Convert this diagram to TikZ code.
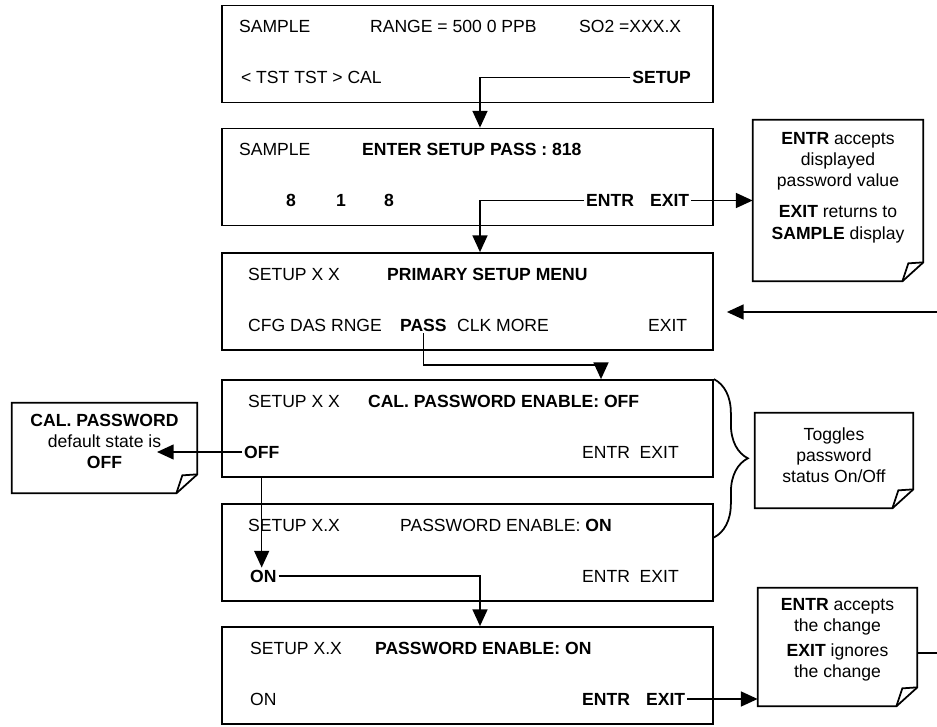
\documentclass[tikz,border=0pt]{standalone}
\usepackage{fontspec}
\setmainfont{Liberation Sans}
\usetikzlibrary{arrows.meta,calc,decorations.pathreplacing}

\tikzset{
  scrn/.style={draw, line width=1pt, minimum width=9.82cm, minimum height=1.94cm},
  key/.style={anchor=west, inner sep=1pt, text height=7.2pt, text depth=0pt},
  keyb/.style={key, font=\fontsize{10}{12}\selectfont\bfseries},
  note/.style={align=center, inner sep=2pt},
  notebd/.style={line width=1pt},
  arr/.style={line width=0.9pt, -{Triangle[width=8.5pt,length=9.5pt]}},
}
\newcommand{\dogear}[1]{%
  \draw[notebd] (#1.north west) -- (#1.north east) -- ([yshift=0.38cm]#1.south east)
    -- ([xshift=-0.42cm]#1.south east) -- (#1.south west) -- cycle;
  \draw[notebd] ([xshift=-0.42cm]#1.south east) -- ([xshift=-0.30cm,yshift=0.36cm]#1.south east)
    -- ([yshift=0.38cm]#1.south east);}

\begin{document}
\begin{tikzpicture}[font=\fontsize{10}{12}\selectfont]
  \useasboundingbox (0,0) rectangle (18.74,14.52);

  %% Display 1 -- sample screen
  \node[scrn] (s1) at (9.35,13.44) {};
  \node[key]  (smp1)  at (4.74,13.99) {SAMPLE};
  \node[key]  (rng)   at (7.36,13.99) {RANGE = 500 0 PPB};
  \node[key]  (so2)   at (11.54,13.99) {SO2 =XXX.X};
  \node[key]  (tst)   at (4.78,12.97) {< TST TST > CAL};
  \node[keyb, anchor=east] (setup) at (13.86,12.97) {SETUP};

  %% Display 2 -- password entry
  \node[scrn] (s2) at (9.35,10.98) {};
  \node[key]  (smp2)  at (4.74,11.53) {SAMPLE};
  \node[keyb] (pwd)   at (7.20,11.53) {ENTER SETUP PASS : 818};
  \node[keyb, anchor=center] (dg1) at (5.82,10.51) {8};
  \node[keyb, anchor=center] (dg2) at (6.82,10.51) {1};
  \node[keyb, anchor=center] (dg3) at (7.78,10.51) {8};
  \node[keyb] (entr2) at (11.68,10.51) {ENTR};
  \node[keyb] (exit2) at (12.96,10.51) {EXIT};

  %% Display 3 -- primary setup menu
  \node[scrn] (s3) at (9.35,8.49) {};
  \node[key]  (set3)  at (4.92,9.04) {SETUP X X};
  \node[keyb] (menu)  at (7.70,9.04) {PRIMARY SETUP MENU};
  \node[key]  (cfg)   at (4.92,8.02) {CFG DAS RNGE};
  \node[keyb] (pass)  at (7.96,8.02) {PASS};
  \node[key]  (clk)   at (9.10,8.02) {CLK MORE};
  \node[key]  (exit3) at (12.92,8.02) {EXIT};

  %% Display 4 -- enable is off
  \node[scrn] (s4) at (9.35,5.95) {};
  \node[key]  (set4)  at (4.92,6.50) {SETUP X X};
  \node[keyb] (cal4)  at (7.32,6.50) {CAL.\ PASSWORD ENABLE: OFF};
  \node[keyb] (off)   at (4.84,5.48) {OFF};
  \node[key]  (ent4)  at (11.60,5.48) {ENTR\ \ EXIT};

  %% Display 5 -- enable is on
  \node[scrn] (s5) at (9.35,3.47) {};
  \node[key]  (set5)  at (4.92,4.02) {SETUP X.X};
  \node[key]  (pe5)   at (7.96,4.02) {PASSWORD ENABLE: \textbf{ON}};
  \node[keyb] (on)    at (4.96,3.00) {ON};
  \node[key]  (ent5)  at (11.60,3.00) {ENTR\ \ EXIT};

  %% Display 6 -- confirm
  \node[scrn] (s6) at (9.35,1.01) {};
  \node[key]  (set6)  at (4.96,1.56) {SETUP X.X};
  \node[keyb] (pe6)   at (7.46,1.56) {PASSWORD ENABLE: ON};
  \node[key]  (on6)   at (4.96,0.54) {ON};
  \node[keyb] (entr6) at (11.60,0.54) {ENTR};
  \node[keyb] (exit6) at (12.88,0.54) {EXIT};

  %% Notes
  \node[note, minimum width=3.40cm, minimum height=3.22cm] (nexit) at (16.76,10.51)
    {\textbf{ENTR} accepts\\ displayed\\ password value\\[6pt]
     \textbf{EXIT} returns to\\ \textbf{SAMPLE} display\rule[-17pt]{0pt}{17pt}};
  \dogear{nexit}
  \node[note, minimum width=3.70cm, minimum height=1.80cm] (ncal) at (2.09,5.56)
    {\textbf{CAL.\ PASSWORD}\\ default state is\\ \textbf{OFF}\rule[-8pt]{0pt}{8pt}};
  \dogear{ncal}
  \node[note, minimum width=3.16cm, minimum height=1.90cm] (ntog) at (16.68,5.31)
    {Toggles\\ password\\ status On/Off\rule[-6pt]{0pt}{6pt}};
  \dogear{ntog}
  \node[note, minimum width=3.18cm, minimum height=2.36cm] (nchg) at (16.75,1.58)
    {\textbf{ENTR} accepts\\ the change\\[2pt] \textbf{EXIT} ignores\\ the change\rule[-10pt]{0pt}{10pt}};
  \dogear{nchg}

  %% Free ends
  \coordinate (retin)    at (18.74,8.28);
  \coordinate (retout)   at (18.74,1.46);
  \coordinate (caltip)   at (3.14,0);
  \coordinate (passbend) at (12.02,7.22);

  %% Connectors
  \draw[arr] (setup.west) -| ($(s2.north)+(0.25,0)$);
  \draw[arr] (entr2.west) -| ($(s3.north)+(0.25,0)$);
  \draw[arr] (exit2.east) -- (exit2.east -| nexit.west);
  \draw[arr, shorten >=0.26cm] (retin) -- (retin -| s3.east);
  \draw[arr] (pass.south) |- (passbend) -- (passbend |- s4.north);
  \draw[arr] (off.west) -- (off.west -| caltip);
  \draw[arr] (off.south |- s4.south) -- (off.south |- on.north);
  \draw[arr] (on.east) -| ($(s6.north)+(0.25,0)$);
  \draw[arr] (exit6.east) -- (exit6.east -| nchg.west);
  \draw[line width=0.9pt] (nchg.east |- retout) -- (retout);

  %% Brace over the two toggle screens
  \draw[notebd, decorate, decoration={brace, amplitude=0.68cm}]
    (s4.north east) -- ($(s5.east)+(0,0.30)$);
\end{tikzpicture}
\end{document}
